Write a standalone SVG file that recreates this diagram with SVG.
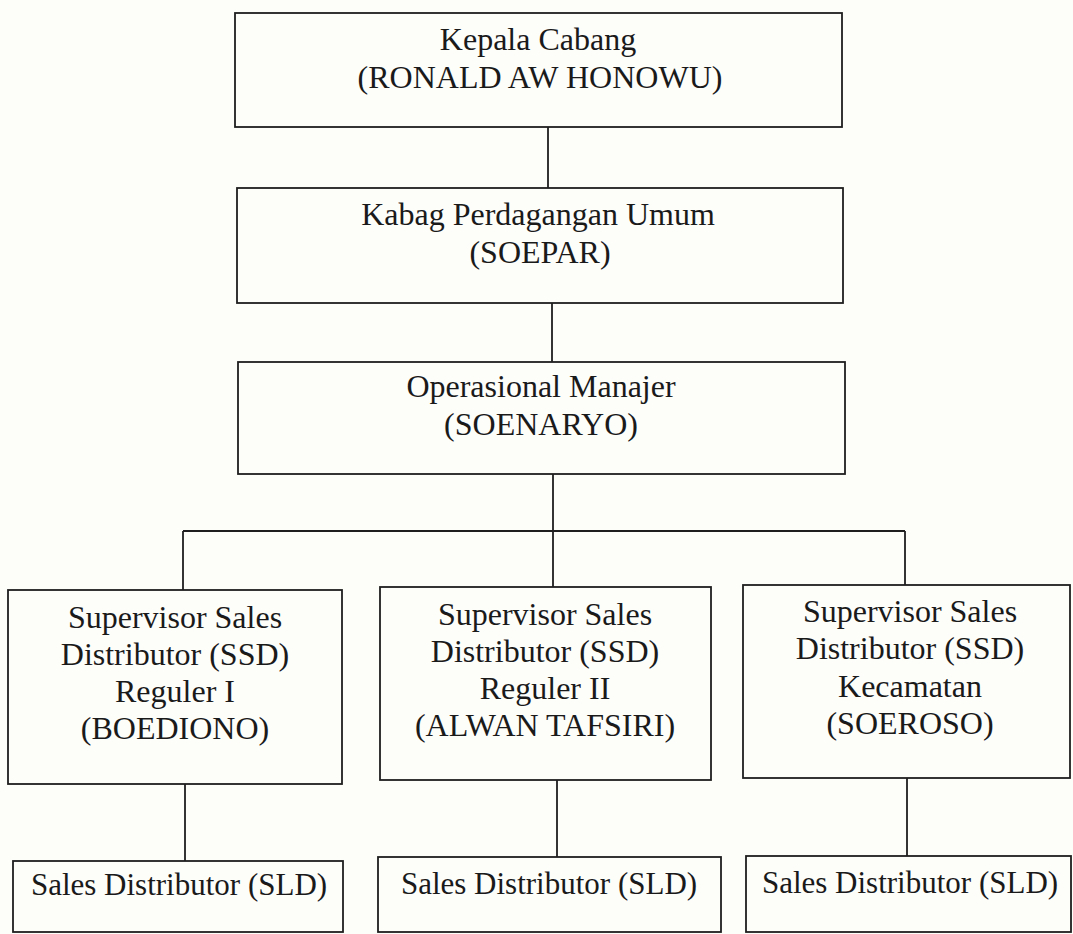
<svg xmlns="http://www.w3.org/2000/svg" width="1073" height="934" viewBox="0 0 1073 934">
<style>
.box{fill:none;stroke:#1e1e1e;stroke-width:1.8}
.con{fill:none;stroke:#1e1e1e;stroke-width:1.8}
text{font-family:"Liberation Serif","Times New Roman",serif;font-size:32px;fill:#1a1a1a;text-anchor:middle}
.sld{font-size:31px}
</style>
<rect x="0" y="0" width="1073" height="934" fill="#fdfdfa"/>
<g id="connectors">
<line class="con" x1="548" y1="127" x2="548" y2="188"/>
<line class="con" x1="552" y1="303" x2="552" y2="362"/>
<line class="con" x1="553" y1="474" x2="553" y2="587"/>
<line class="con" x1="183" y1="531" x2="905" y2="531"/>
<line class="con" x1="183" y1="531" x2="183" y2="590"/>
<line class="con" x1="905" y1="531" x2="905" y2="585"/>
<line class="con" x1="185" y1="784" x2="185" y2="861"/>
<line class="con" x1="557" y1="780" x2="557" y2="857"/>
<line class="con" x1="907" y1="778" x2="907" y2="856"/>
</g>
<g id="kepala">
<rect class="box" x="235" y="13" width="607" height="114"/>
<text x="538" y="50">Kepala Cabang</text>
<text x="540" y="88">(RONALD AW HONOWU)</text>
</g>
<g id="kabag">
<rect class="box" x="237" y="188" width="606" height="115"/>
<text x="538" y="225">Kabag Perdagangan Umum</text>
<text x="540" y="263">(SOEPAR)</text>
</g>
<g id="opman">
<rect class="box" x="238" y="362" width="607" height="112"/>
<text x="541" y="397">Operasional Manajer</text>
<text x="541" y="435">(SOENARYO)</text>
</g>
<g id="ssd1">
<rect class="box" x="8" y="590" width="334" height="194"/>
<text x="175" y="628">Supervisor Sales</text>
<text x="175" y="665">Distributor (SSD)</text>
<text x="175" y="702">Reguler I</text>
<text x="175" y="739">(BOEDIONO)</text>
</g>
<g id="ssd2">
<rect class="box" x="380" y="587" width="331" height="193"/>
<text x="545" y="625">Supervisor Sales</text>
<text x="545" y="662">Distributor (SSD)</text>
<text x="545" y="699">Reguler II</text>
<text x="545" y="736">(ALWAN TAFSIRI)</text>
</g>
<g id="ssd3">
<rect class="box" x="743" y="585" width="327" height="193"/>
<text x="910" y="622">Supervisor Sales</text>
<text x="910" y="659">Distributor (SSD)</text>
<text x="910" y="697">Kecamatan</text>
<text x="910" y="734">(SOEROSO)</text>
</g>
<g id="sld1">
<rect class="box" x="13" y="861" width="330" height="71"/>
<text class="sld" x="179" y="895">Sales Distributor (SLD)</text>
</g>
<g id="sld2">
<rect class="box" x="378" y="857" width="343" height="75"/>
<text class="sld" x="549" y="894">Sales Distributor (SLD)</text>
</g>
<g id="sld3">
<rect class="box" x="746" y="856" width="325" height="76"/>
<text class="sld" x="910" y="893">Sales Distributor (SLD)</text>
</g>
</svg>
